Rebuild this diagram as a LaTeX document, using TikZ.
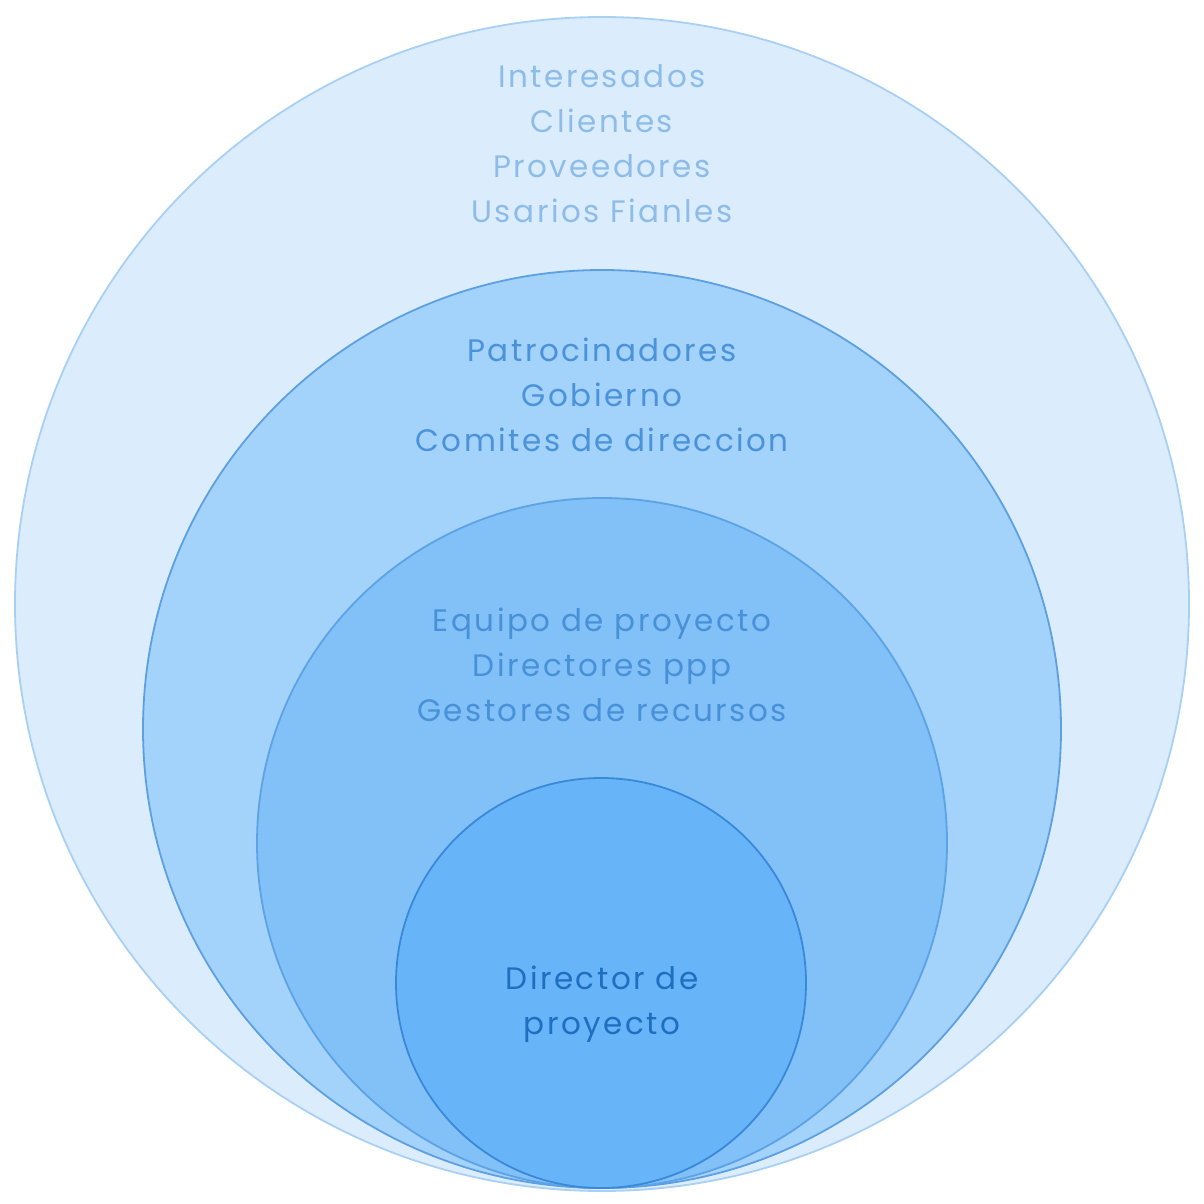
\documentclass[tikz,border=0pt]{standalone}
\usepackage{fontspec}
\setmainfont{Poppins}[LetterSpace=8]
\definecolor{f1}{HTML}{DBEDFC}
\definecolor{s1}{HTML}{A8D0F4}
\definecolor{f2}{HTML}{A3D2FA}
\definecolor{s2}{HTML}{5DA0E2}
\definecolor{f3}{HTML}{81C1F8}
\definecolor{s3}{HTML}{5CA2E4}
\definecolor{f4}{HTML}{67B5F8}
\definecolor{s4}{HTML}{3A88D8}
\definecolor{t1}{HTML}{8DBCE9}
\definecolor{t2}{HTML}{4A92DA}
\definecolor{t3}{HTML}{4890D8}
\definecolor{t4}{HTML}{1F6EC0}
\tikzset{
  ring/.style={circle, line width=1.8pt, inner sep=0pt},
  lbl/.style={align=center, font=\fontsize{31}{45}\selectfont},
}
\begin{document}
\begin{tikzpicture}[x=1pt,y=-1pt]
\useasboundingbox (0,0) rectangle (1204,1204);
\node[ring, draw=s1, fill=f1, minimum size=1174pt] (c1) at (602,604) {};
\node[ring, draw=s2, fill=f2, minimum size=918pt] (c2) at (602,729) {};
\node[ring, draw=s3, fill=f3, minimum size=690pt] (c3) at (602,843) {};
\node[ring, draw=s4, fill=f4, minimum size=410pt] (c4) at (601,983) {};
\node[lbl, text=t1] (l1) at (602,144) {Interesados\\Clientes\\Proveedores\\Usarios Fianles};
\node[lbl, text=t2] (l2) at (602,395) {Patrocinadores\\Gobierno\\Comites de direccion};
\node[lbl, text=t3] (l3) at (602,665) {Equipo de proyecto\\Directores ppp\\Gestores de recursos};
\node[lbl, text=t4] (l4) at (602,1004) {Director de\hspace{12pt}\\proyecto};
\end{tikzpicture}
\end{document}
